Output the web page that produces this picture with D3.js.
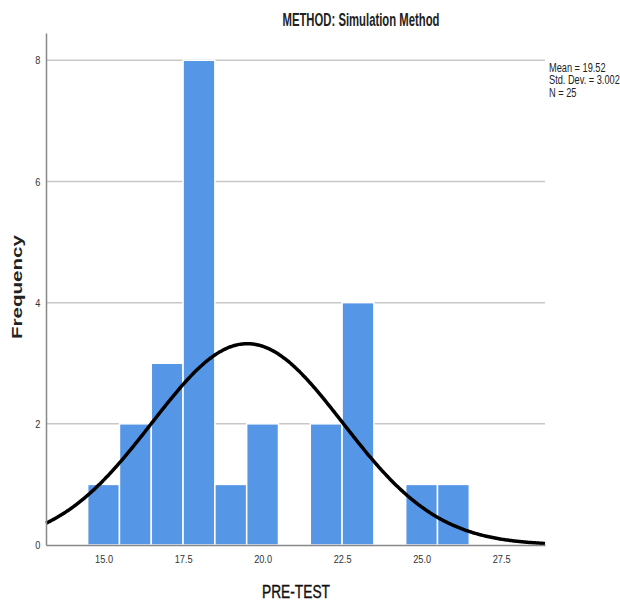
<!DOCTYPE html>
<html>
<head>
<meta charset="utf-8">
<script src="https://cdn.jsdelivr.net/npm/d3@7"></script>
<style>
  body { margin: 0; background: #fff; }
  svg { display: block; }
</style>
</head>
<body>
<div id="chart"></div>
<script>
// histogram bins (centre of each 1-wide bin) and counts
const binCentres = [15, 16, 17, 18, 19, 20, 22, 23, 25, 26];
const counts = [1, 2, 3, 8, 1, 2, 2, 4, 1, 1];
const xTicks = [15.0, 17.5, 20.0, 22.5, 25.0, 27.5];
const yTicks = [0, 2, 4, 6, 8];
const stats = ["Mean = 19.52", "Std. Dev. = 3.002", "N = 25"];
const mean = 19.52, sd = 3.002, n = 25, binWidth = 1;

const width = 620, height = 602;
const plotLeft = 46, plotRight = 545, plotTop = 33, plotBottom = 545;

const svg = d3.select('#chart').append('svg')
  .attr('width', width)
  .attr('height', height);

const x = d3.scaleLinear().domain([13.19, 28.88]).range([plotLeft, plotRight]);
const y = d3.scaleLinear().domain([0, 8.45]).range([plotBottom, plotTop]);

const font = '"Liberation Sans", Arial, sans-serif';

// gridlines
svg.append('g')
  .selectAll('line')
  .data(yTicks.filter(d => d > 0))
  .enter()
  .append('line')
  .attr('x1', plotLeft)
  .attr('x2', plotRight)
  .attr('y1', d => y(d))
  .attr('y2', d => y(d))
  .attr('stroke', '#c8c8c8')
  .attr('stroke-width', 1.5);

// bars
svg.append('g')
  .selectAll('rect')
  .data(binCentres)
  .enter()
  .append('rect')
  .attr('x', d => x(d - binWidth / 2))
  .attr('width', d => x(d + binWidth / 2) - x(d - binWidth / 2))
  .attr('y', (d, i) => y(counts[i]))
  .attr('height', (d, i) => y(0) - y(counts[i]))
  .attr('fill', '#5596e6')
  .attr('stroke', '#ffffff')
  .attr('stroke-width', 1.5);

// normal curve
const pts = d3.range(0, 401).map(i => {
  const v = x.domain()[0] + (x.domain()[1] - x.domain()[0]) * i / 400;
  const f = n * binWidth / (sd * Math.sqrt(2 * Math.PI)) * Math.exp(-0.5 * Math.pow((v - mean) / sd, 2));
  return [v, f];
});
svg.append('path')
  .datum(pts)
  .attr('d', d3.line().x(d => x(d[0])).y(d => y(d[1])))
  .attr('fill', 'none')
  .attr('stroke', '#000')
  .attr('stroke-width', 3.5);

// axes
const xAxis = svg.append('g')
  .attr('transform', `translate(0,${plotBottom})`)
  .call(d3.axisBottom(x).tickValues(xTicks).tickFormat(d3.format('.1f')).tickSize(0).tickPadding(10));
const yAxis = svg.append('g')
  .attr('transform', `translate(${plotLeft},0)`)
  .call(d3.axisLeft(y).tickValues(yTicks).tickFormat(d3.format('d')).tickSize(0).tickPadding(7));

[xAxis, yAxis].forEach(a => {
  a.select('.domain').attr('stroke', '#888').attr('stroke-width', 1.5);
  a.selectAll('text')
    .attr('font-family', font)
    .attr('font-size', 11.5)
    .attr('fill', '#333')
    .attr('transform', 'scale(0.8,1)');
});

// title
svg.append('text')
  .attr('x', 361)
  .attr('y', 26)
  .attr('text-anchor', 'middle')
  .attr('font-family', font)
  .attr('font-weight', 'bold')
  .attr('font-size', 17.5)
  .attr('textLength', 157)
  .attr('lengthAdjust', 'spacingAndGlyphs')
  .attr('fill', '#222')
  .text('METHOD: Simulation Method');

// stats box
svg.append('g')
  .attr('transform', 'translate(549,0) scale(0.75,1)')
  .selectAll('text')
  .data(stats)
  .enter()
  .append('text')
  .attr('x', 0)
  .attr('y', (d, i) => 72 + i * 12.5)
  .attr('font-family', font)
  .attr('font-size', 12.3)
  .attr('fill', '#222')
  .text(d => d);

// axis titles
svg.append('text')
  .attr('transform', 'translate(22,287) rotate(-90)')
  .attr('text-anchor', 'middle')
  .attr('font-family', font)
  .attr('font-weight', 'bold')
  .attr('font-size', 14)
  .attr('textLength', 104)
  .attr('lengthAdjust', 'spacingAndGlyphs')
  .attr('fill', '#222')
  .text('Frequency');

svg.append('text')
  .attr('x', 296)
  .attr('y', 598)
  .attr('text-anchor', 'middle')
  .attr('font-family', font)
  .attr('font-size', 18)
  .attr('textLength', 68)
  .attr('lengthAdjust', 'spacingAndGlyphs')
  .attr('fill', '#111')
  .attr('stroke', '#111')
  .attr('stroke-width', 0.4)
  .text('PRE-TEST');
</script>
</body>
</html>
